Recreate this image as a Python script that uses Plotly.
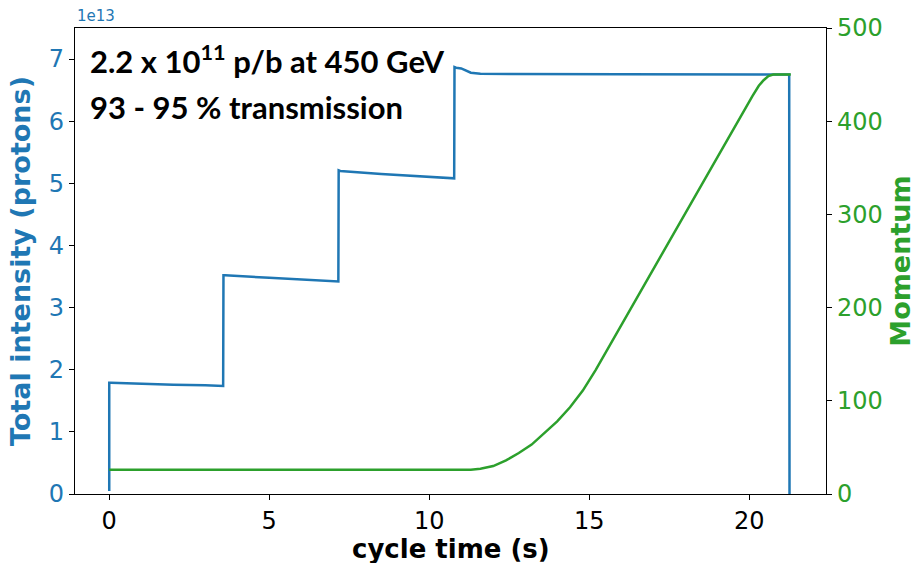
import plotly.graph_objects as go

# Beam intensity during the cycle (units of 1e13 protons)
time_intensity = [0.0, 0.0, 0.05, 1.0, 2.0, 3.0, 3.56, 3.57, 3.62, 5.0, 6.2, 7.16, 7.17, 7.22, 8.5, 9.8, 10.78,
                  10.79, 10.84, 11.0, 11.15, 11.3, 11.6, 12.5, 16.0, 21.25, 21.26]
intensity_e13 = [0.05, 1.79, 1.79, 1.77, 1.76, 1.75, 1.74, 3.52, 3.52, 3.48, 3.45, 3.42, 5.21, 5.20, 5.15, 5.11, 5.08,
                 6.87, 6.86, 6.85, 6.81, 6.78, 6.765, 6.76, 6.755, 6.75, 0.0]

# Beam momentum (GeV/c)
time_momentum = [0.0, 11.3, 11.6, 12.0, 12.4, 12.8, 13.2, 13.6, 14.0, 14.4, 14.8, 15.2, 15.6, 16.0, 16.4,
                 16.8, 17.5, 18.5, 19.5, 19.8, 20.1, 20.3, 20.45, 20.6, 20.75, 21.3]
momentum = [26, 26, 27, 30, 36, 44, 53, 65, 78, 93, 111, 133, 157, 181, 206,
            230, 272, 332, 392, 409, 427, 438, 444, 448.5, 450, 450]

x_ticks = [0, 5, 10, 15, 20]
y_ticks = [0, 1, 2, 3, 4, 5, 6, 7]
y2_ticks = [0, 100, 200, 300, 400, 500]

BLUE = "#1f77b4"
GREEN = "#2ca02c"
TICK_FONT = "DejaVu Sans"

fig = go.Figure()
fig.add_trace(go.Scatter(x=time_intensity, y=intensity_e13, mode="lines",
                         line=dict(color=BLUE, width=2.5), yaxis="y", showlegend=False))
fig.add_trace(go.Scatter(x=time_momentum, y=momentum, mode="lines",
                         line=dict(color=GREEN, width=2.5), yaxis="y2", showlegend=False))

axis_common = dict(showgrid=False, zeroline=False, showline=True, linecolor="black", linewidth=1.2,
                   ticks="outside", ticklen=5, tickcolor="black", tickwidth=1.2, automargin=False)

fig.update_layout(
    width=916, height=563,
    margin=dict(l=75, r=90, t=28, b=69),
    plot_bgcolor="white", paper_bgcolor="white",
    xaxis=dict(range=[-1.07, 22.4], tickvals=x_ticks, mirror=True,
               tickfont=dict(family=TICK_FONT, size=24, color="black"),
               **axis_common),
    yaxis=dict(range=[0, 7.5], tickvals=y_ticks,
               tickfont=dict(family=TICK_FONT, size=24, color=BLUE),
               title=dict(text="<b>Total intensity (protons)</b>", standoff=10,
                          font=dict(family=TICK_FONT, size=27, color=BLUE)),
               **axis_common),
    yaxis2=dict(range=[0, 500], tickvals=y2_ticks, overlaying="y", side="right",
                tickfont=dict(family=TICK_FONT, size=24, color=GREEN),
                title=dict(text="<b>Momentum</b>", standoff=10,
                           font=dict(family=TICK_FONT, size=27, color=GREEN)),
                **axis_common),
)

# Time axis title
fig.add_annotation(text="<b>cycle time (s)</b>", xref="paper", yref="paper", x=0.5, y=-0.118,
                   xanchor="center", yanchor="middle", showarrow=False,
                   font=dict(family=TICK_FONT, size=26, color="black"))

# Axis offset label for the intensity scale
fig.add_annotation(text="1e13", xref="paper", yref="paper", x=0.0, y=1.0, xanchor="left", yanchor="bottom",
                   showarrow=False, font=dict(family=TICK_FONT, size=15, color=BLUE), yshift=1)

# Beam parameters note
note_font = dict(family="Lato", size=31, color="black")
fig.add_annotation(text="<b>2.2 x 10<sup>11</sup> p/b at 450 GeV</b>", xref="paper", yref="paper",
                   x=0.0173, y=0.9334, xanchor="left", yanchor="middle", showarrow=False, font=note_font)
fig.add_annotation(text="<b>93 - 95 % transmission</b>", xref="paper", yref="paper",
                   x=0.0173, y=0.8305, xanchor="left", yanchor="middle", showarrow=False, font=note_font)

fig.write_html("out.html")
